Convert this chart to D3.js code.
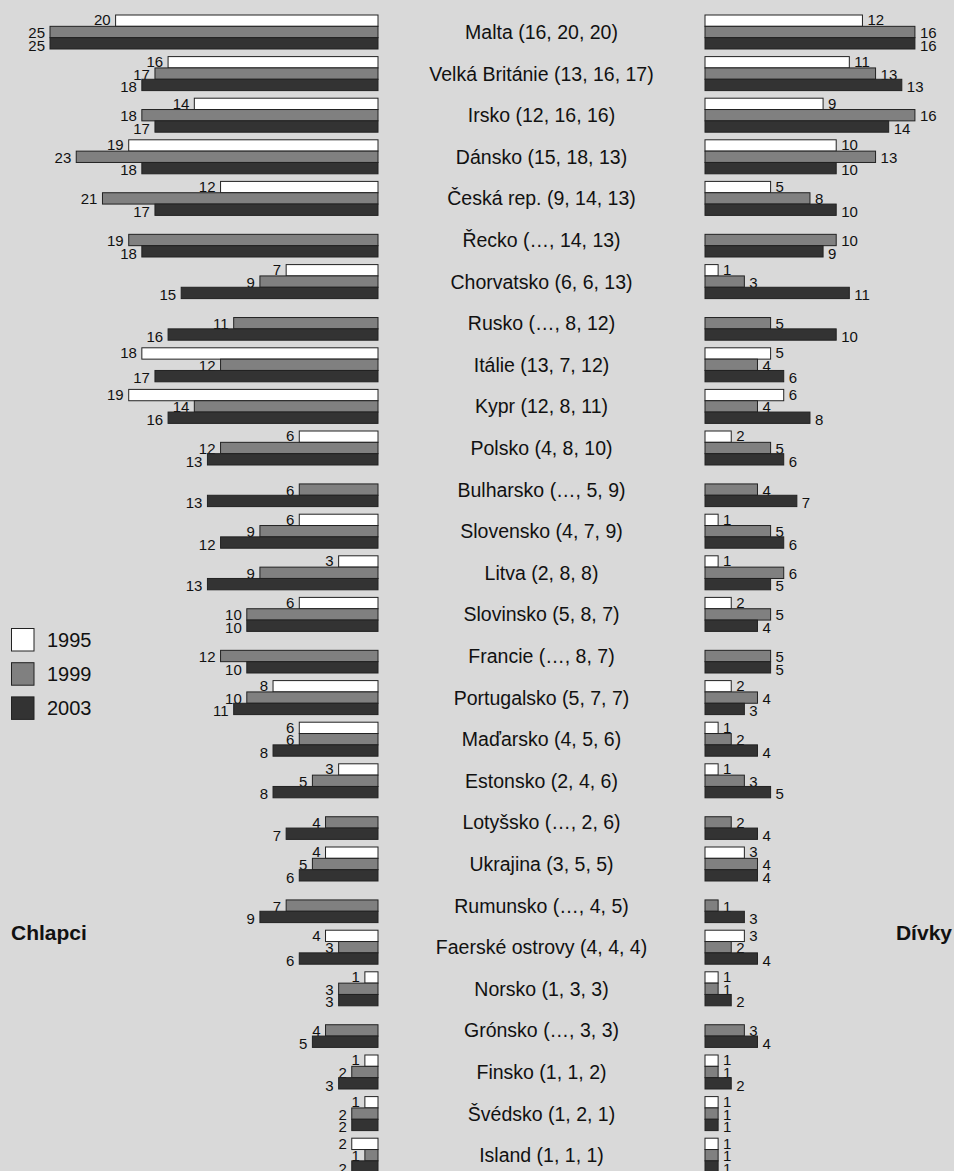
<!DOCTYPE html>
<html><head><meta charset="utf-8">
<script src="https://cdn.jsdelivr.net/npm/d3@7"></script>
<style>
html,body{margin:0;padding:0;background:#d9d9d9;}
svg{display:block;font-family:"Liberation Sans",Arial,Helvetica,sans-serif;}
</style></head>
<body>
<svg id="chart" width="954" height="1171"></svg>
<script>
const categories = ["Malta (16, 20, 20)","Velká Británie (13, 16, 17)","Irsko (12, 16, 16)","Dánsko (15, 18, 13)","Česká rep. (9, 14, 13)","Řecko (…, 14, 13)","Chorvatsko (6, 6, 13)","Rusko (…, 8, 12)","Itálie (13, 7, 12)","Kypr (12, 8, 11)","Polsko (4, 8, 10)","Bulharsko (…, 5, 9)","Slovensko (4, 7, 9)","Litva (2, 8, 8)","Slovinsko (5, 8, 7)","Francie (…, 8, 7)","Portugalsko (5, 7, 7)","Maďarsko (4, 5, 6)","Estonsko (2, 4, 6)","Lotyšsko (…, 2, 6)","Ukrajina (3, 5, 5)","Rumunsko (…, 4, 5)","Faerské ostrovy (4, 4, 4)","Norsko (1, 3, 3)","Grónsko (…, 3, 3)","Finsko (1, 1, 2)","Švédsko (1, 2, 1)","Island (1, 1, 1)"];
const years = ["1995","1999","2003"];
const boys1995 = [20,16,14,19,12,null,7,null,18,19,6,null,6,3,6,null,8,6,3,null,4,null,4,1,null,1,1,2];
const boys1999 = [25,17,18,23,21,19,9,11,12,14,12,6,9,9,10,12,10,6,5,4,5,7,3,3,4,2,2,1];
const boys2003 = [25,18,17,18,17,18,15,16,17,16,13,13,12,13,10,10,11,8,8,7,6,9,6,3,5,3,2,2];
const girls1995 = [12,11,9,10,5,null,1,null,5,6,2,null,1,1,2,null,2,1,1,null,3,null,3,1,null,1,1,1];
const girls1999 = [16,13,16,13,8,10,3,5,4,4,5,4,5,6,5,5,4,2,3,2,4,1,2,1,3,1,1,1];
const girls2003 = [16,15,14,10,10,9,11,10,6,8,6,7,6,5,4,5,3,4,5,4,4,3,4,2,4,2,1,1];
// label printed in the source for girls 2003 (differs from bar length for Velká Británie)
const girls2003Text = [16,13,14,10,10,9,11,10,6,8,6,7,6,5,4,5,3,4,5,4,4,3,4,2,4,2,1,1];
const colors = {"1995":"#ffffff","1999":"#808080","2003":"#333333"};
const sideTitles = ["Chlapci","Dívky"];

const svg = d3.select("#chart");
const W = 954, H = 1171;
svg.append("rect").attr("width",W).attr("height",H).attr("fill","#d9d9d9");

const y = d3.scaleBand().domain(categories).range([15, 15 + 27*41.6 + 34]).paddingInner(7.6/41.6).paddingOuter(0);
const yInner = d3.scaleBand().domain(years).range([0, y.bandwidth()]);
const unit = 13.12;
const xL = d3.scaleLinear().domain([0,25]).range([378, 378 - 25*unit]);
const xR = d3.scaleLinear().domain([0,16]).range([705, 705 + 16*unit]);

const boys = [boys1995, boys1999, boys2003];
const girls = [girls1995, girls1999, girls2003];
const girlsText = [girls1995, girls1999, girls2003Text];

const g = svg.append("g");
categories.forEach((cat, ci) => {
  const gy = y(cat);
  years.forEach((yr, yi) => {
    const by = gy + yInner(yr);
    const bh = yInner.bandwidth();
    const lblY = gy + 10.3 + yi*12.6;
    const vb = boys[yi][ci];
    if (vb != null) {
      g.append("rect").attr("x", xL(vb)).attr("y", by).attr("width", xL(0)-xL(vb)).attr("height", bh)
        .attr("fill", colors[yr]).attr("stroke","#222").attr("stroke-width",1);
      g.append("text").attr("x", xL(vb)-5).attr("y", lblY).attr("text-anchor","end")
        .attr("font-size",15).attr("fill","#111").text(vb);
    }
    const vg = girls[yi][ci];
    if (vg != null) {
      g.append("rect").attr("x", xR(0)).attr("y", by).attr("width", xR(vg)-xR(0)).attr("height", bh)
        .attr("fill", colors[yr]).attr("stroke","#222").attr("stroke-width",1);
      g.append("text").attr("x", xR(vg)+5).attr("y", lblY).attr("text-anchor","start")
        .attr("font-size",15).attr("fill","#111").text(girlsText[yi][ci]);
    }
  });
  g.append("text").attr("x", (xL(0)+xR(0))/2).attr("y", gy + y.bandwidth()/2)
    .attr("text-anchor","middle").attr("dominant-baseline","central")
    .attr("font-size",19.5).attr("fill","#111").text(cat);
});

// legend
const leg = svg.append("g");
years.forEach((yr, i) => {
  leg.append("rect").attr("x",11.5).attr("y",628.5 + i*34.2).attr("width",22.5).attr("height",22.5)
    .attr("fill",colors[yr]).attr("stroke","#222").attr("stroke-width",1);
  leg.append("text").attr("x",47).attr("y",647 + i*34.2).attr("font-size",20).attr("fill","#111").text(yr);
});

svg.append("text").attr("x",11).attr("y",940).attr("font-size",21).attr("font-weight","bold").attr("fill","#111").text(sideTitles[0]);
svg.append("text").attr("x",952).attr("y",940).attr("text-anchor","end").attr("font-size",21).attr("font-weight","bold").attr("fill","#111").text(sideTitles[1]);
</script>
</body></html>
